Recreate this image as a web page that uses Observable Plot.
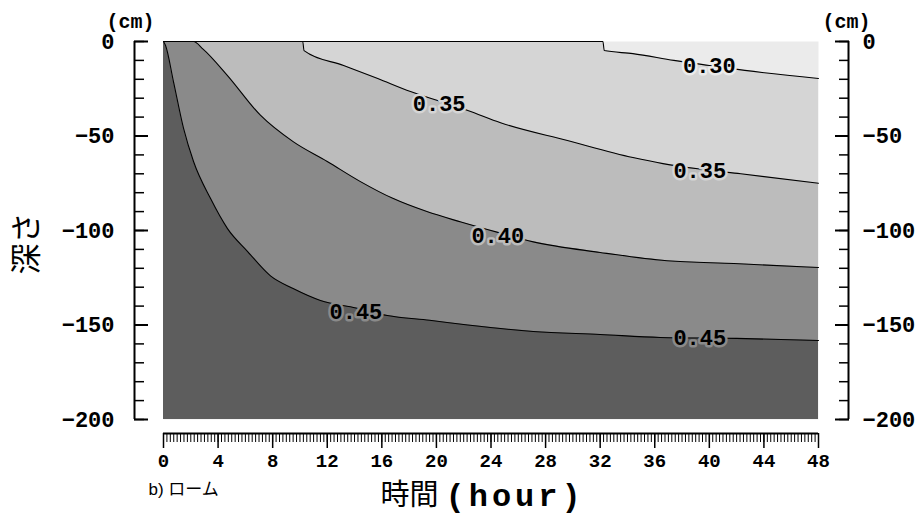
<!DOCTYPE html>
<html>
<head>
<meta charset="utf-8">
<script src="https://cdn.jsdelivr.net/npm/d3@7"></script>
<script src="https://cdn.jsdelivr.net/npm/@observablehq/plot@0.6"></script>
<style>
  html, body { margin: 0; padding: 0; background: #fff; }
  svg { display: block; }
  #chart svg > g:last-of-type text { letter-spacing: 4px; }
</style>
</head>
<body>
<div id="chart"></div>
<script>
// ---- axes / domains ----
const timeDomain = [0, 48];
const depthDomain = [-200, 0];
const timeTicks = [0, 4, 8, 12, 16, 20, 24, 28, 32, 36, 40, 44, 48];
const timeMinorTicks = d3.range(0, 48.001, 0.25);
const depthTicks = [0, -50, -100, -150, -200];
const depthMinorTicks = d3.range(-200, 0.001, 10);

// ---- contour lines: [time (hour), depth (cm)] ----
const contour030 = [[0, 0], [32.2, 0], [32.3, -4.8], [34.4, -6.4], [37.4, -10], [40, -12.7], [42.6, -15.3], [48, -19.6]];
const contour035 = [[0, 0], [10.2, 0], [10.3, -4.8], [13.2, -12.7], [15.7, -19.6], [18.1, -26.5], [20.2, -31.5], [22.3, -36.5], [24.7, -43], [29.6, -52.4], [34.4, -61.4], [36.6, -64.6], [39.3, -67.5], [42.3, -70], [48, -75]];
const contour040 = [[0, 0], [2.2, 0], [2.9, -4], [4.69, -18], [7.1, -39], [9.5, -53], [12, -63.5], [14.4, -74], [16.8, -83], [19.3, -90], [21.8, -95.5], [24.5, -101], [27.1, -106], [32, -111.6], [36.9, -116], [41.8, -117.5], [48, -119.6]];
const contour045 = [[0, 0], [0.15, -2.1], [0.73, -21.2], [1.47, -46], [2.2, -63.5], [3.44, -83], [4.69, -99], [6.15, -111], [7.84, -124], [9.5, -130.7], [11.5, -137], [14.1, -141], [16.4, -145], [19.5, -147.5], [22.3, -150], [27.1, -153.4], [32, -155], [36.4, -156.6], [42, -157.1], [48, -158.2]];

// ---- contour labels ----
const labelText = ["0.30", "0.35", "0.35", "0.40", "0.45", "0.45"];
const labelTime = [40.0, 20.2, 39.3, 24.5, 14.1, 39.3];
const labelDepth = [-12.7, -32.8, -68.3, -103, -142.9, -157];

// ---- texts ----
const yTitle = "深さ";
const xTitleJa = "時間";
const xTitleEn = "(hour)";
const panelLabel = "b) ローム";
const unitLabel = "(cm)";

// ---- build ----
const toPts = (arr) => arr.map(([t, d]) => ({t, d}));
const contours = [contour030, contour035, contour040, contour045].map(toPts);
const fills = ["#ebebeb", "#d5d5d5", "#bcbcbc", "#8a8a8a", "#5d5d5d"];
const labelHaloIdx = {"0.30": 0, "0.35": 1, "0.40": 2, "0.45": 3};
const labels = labelText.map((text, i) => ({text, t: labelTime[i], d: labelDepth[i]}));

const mono = "'Liberation Mono', 'DejaVu Sans Mono', monospace";
const cjk = "'Noto Sans CJK JP', sans-serif";

const plot = Plot.plot({
  width: 922,
  height: 518,
  marginLeft: 163,
  marginRight: 104,
  marginTop: 41,
  marginBottom: 99,
  x: {domain: timeDomain},
  y: {domain: depthDomain},
  style: {background: "white", color: "black"},
  marks: [
    Plot.frame({fill: fills[0], stroke: "none"}),
    ...contours.map((c, i) => Plot.areaY(c, {x: "t", y1: () => depthDomain[0], y2: "d", fill: fills[i + 1], curve: "monotone-x"})),
    ...contours.map((c) => Plot.line(c, {x: "t", y: "d", stroke: "black", strokeWidth: 1.1, curve: "monotone-x"})),
    Plot.text(labels, {
      x: "t", y: "d", text: "text",
      fontFamily: mono, fontWeight: "bold", fontSize: 22,
      fill: "black",
      stroke: (d) => fills[labelHaloIdx[d.text]],
      strokeWidth: 5
    }),

    // left axis
    Plot.ruleX([timeDomain[0]], {y1: depthDomain[0], y2: depthDomain[1], dx: -29, stroke: "black", strokeWidth: 2}),
    Plot.axisY(depthMinorTicks, {anchor: "left", tickSize: -10, dx: -29, tickFormat: () => "", label: null, strokeWidth: 1.5}),
    Plot.axisY(depthTicks, {anchor: "left", tickSize: -14, dx: -29, tickFormat: () => "", label: null, strokeWidth: 2}),
    Plot.axisY(depthTicks, {anchor: "left", tickSize: 0, tickPadding: 49, label: null, fontFamily: mono, fontWeight: "bold", fontSize: 22}),

    // right axis
    Plot.ruleX([timeDomain[1]], {y1: depthDomain[0], y2: depthDomain[1], dx: 30, stroke: "black", strokeWidth: 2}),
    Plot.axisY(depthMinorTicks, {anchor: "right", tickSize: -10, dx: 30, tickFormat: () => "", label: null, strokeWidth: 1.5}),
    Plot.axisY(depthTicks, {anchor: "right", tickSize: -14, dx: 30, tickFormat: () => "", label: null, strokeWidth: 2}),
    Plot.axisY(depthTicks, {anchor: "right", tickSize: 0, tickPadding: 44, label: null, fontFamily: mono, fontWeight: "bold", fontSize: 22}),

    // bottom axis
    Plot.ruleY([depthDomain[0]], {x1: timeDomain[0], x2: timeDomain[1], dy: 14, stroke: "black", strokeWidth: 2}),
    Plot.axisX(timeMinorTicks, {anchor: "bottom", tickSize: 9, dy: 14, tickFormat: () => "", label: null, strokeWidth: 1}),
    Plot.axisX(timeTicks, {anchor: "bottom", tickSize: 15, dy: 14, tickFormat: () => "", label: null, strokeWidth: 1.5}),
    Plot.axisX(timeTicks, {anchor: "bottom", tickSize: 0, tickPadding: 34, label: null, fontFamily: mono, fontWeight: "bold", fontSize: 19}),

    // unit labels
    Plot.text([unitLabel], {frameAnchor: "top-left", textAnchor: "middle", lineAnchor: "middle", dx: -33, dy: -20, fontFamily: mono, fontWeight: "bold", fontSize: 20}),
    Plot.text([unitLabel], {frameAnchor: "top-right", textAnchor: "middle", lineAnchor: "middle", dx: 28, dy: -20, fontFamily: mono, fontWeight: "bold", fontSize: 20}),

    // titles
    Plot.text([yTitle], {frameAnchor: "left", textAnchor: "middle", lineAnchor: "middle", rotate: -90, dx: -136, dy: 13, fontFamily: cjk, fontSize: 31}),
    Plot.text([panelLabel], {frameAnchor: "bottom-left", textAnchor: "start", lineAnchor: "middle", dx: -15, dy: 70, fontFamily: "'Liberation Sans', " + cjk, fontSize: 17}),
    Plot.text([xTitleJa], {frameAnchor: "bottom-left", textAnchor: "start", lineAnchor: "middle", dx: 217, dy: 76, fontFamily: cjk, fontSize: 29}),
    // last mark: letter-spaced via CSS
    Plot.text([xTitleEn], {frameAnchor: "bottom-left", textAnchor: "start", lineAnchor: "middle", dx: 282, dy: 76, fontFamily: mono, fontWeight: "bold", fontSize: 32})
  ]
});

document.getElementById("chart").appendChild(plot);
</script>
</body>
</html>
